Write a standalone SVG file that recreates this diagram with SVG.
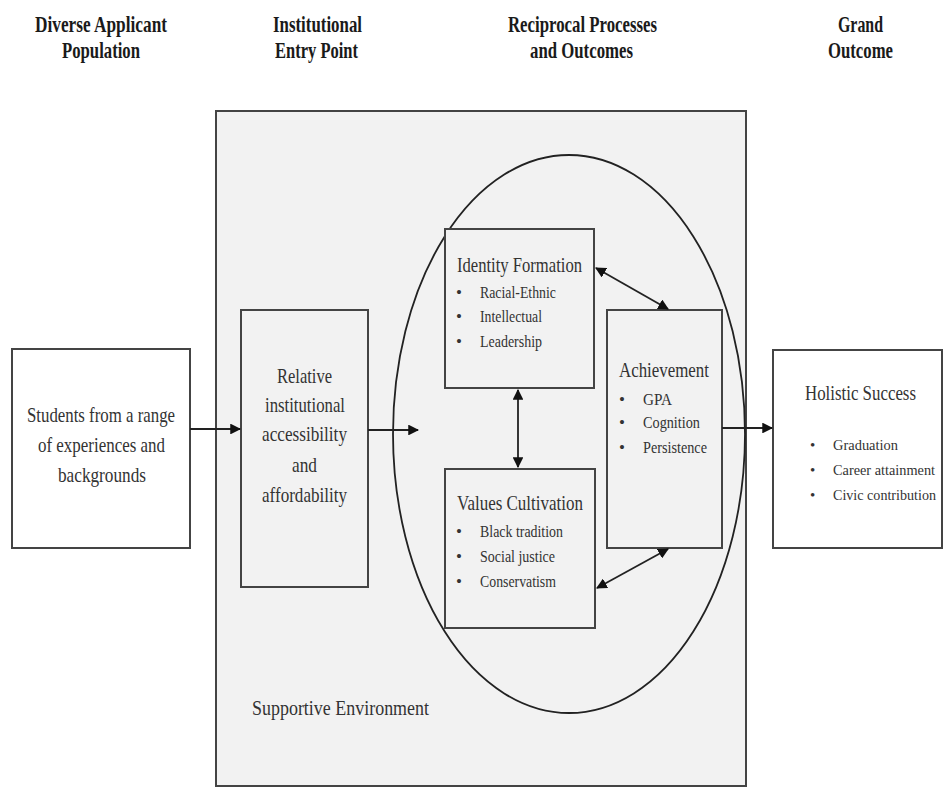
<svg xmlns="http://www.w3.org/2000/svg" width="944" height="789" viewBox="0 0 944 789">
<style>
.hd{font-family:"Liberation Serif",serif;font-weight:bold;font-size:23px;fill:#1a1a1a}
.t{font-family:"Liberation Serif",serif;font-size:21px;fill:#333}
.ti{font-family:"Liberation Serif",serif;font-size:22px;fill:#333}
.b{font-family:"Liberation Serif",serif;font-size:17px;fill:#333}
.tis{font-family:"Liberation Serif",serif;font-size:20px;fill:#333}
.bs{font-family:"Liberation Serif",serif;font-size:15px;fill:#333}
.box{stroke:#444;stroke-width:2}
.ln{stroke:#222;stroke-width:1.8;fill:none}
</style>
<defs>
<marker id="ah" viewBox="0 0 10 10" refX="9" refY="5" markerWidth="6" markerHeight="6" orient="auto-start-reverse">
<path d="M0,0 L10,5 L0,10 z" fill="#111"/>
</marker>
</defs>
<rect width="944" height="789" fill="#fff"/>
<g id="headers">
<text class="hd" x="35" y="32" textLength="132" lengthAdjust="spacingAndGlyphs">Diverse Applicant</text>
<text class="hd" x="62" y="58" textLength="78" lengthAdjust="spacingAndGlyphs">Population</text>
<text class="hd" x="273" y="32" textLength="89" lengthAdjust="spacingAndGlyphs">Institutional</text>
<text class="hd" x="275" y="58" textLength="83" lengthAdjust="spacingAndGlyphs">Entry Point</text>
<text class="hd" x="508" y="32" textLength="149" lengthAdjust="spacingAndGlyphs">Reciprocal Processes</text>
<text class="hd" x="530" y="58" textLength="103" lengthAdjust="spacingAndGlyphs">and Outcomes</text>
<text class="hd" x="838" y="32" textLength="45" lengthAdjust="spacingAndGlyphs">Grand</text>
<text class="hd" x="828" y="58" textLength="65" lengthAdjust="spacingAndGlyphs">Outcome</text>
</g>
<g id="environment">
<rect class="box" x="216" y="111" width="530" height="675" fill="#f2f2f2"/>
<text class="t" x="252" y="715" textLength="177" lengthAdjust="spacingAndGlyphs">Supportive Environment</text>
</g>
<g id="circle">
<ellipse cx="569" cy="434" rx="176" ry="279" fill="none" stroke="#222" stroke-width="1.8"/>
</g>
<g id="students">
<rect class="box" x="12" y="349" width="178" height="199" fill="#fff"/>
<text class="t" x="27" y="422" textLength="148" lengthAdjust="spacingAndGlyphs">Students from a range</text>
<text class="t" x="38" y="452" textLength="127" lengthAdjust="spacingAndGlyphs">of experiences and</text>
<text class="t" x="58" y="482" textLength="88" lengthAdjust="spacingAndGlyphs">backgrounds</text>
</g>
<g id="relative">
<rect class="box" x="241" y="310" width="127" height="277" fill="#f2f2f2"/>
<text class="t" x="277" y="383" textLength="55" lengthAdjust="spacingAndGlyphs">Relative</text>
<text class="t" x="265" y="412" textLength="80" lengthAdjust="spacingAndGlyphs">institutional</text>
<text class="t" x="262" y="441" textLength="85" lengthAdjust="spacingAndGlyphs">accessibility</text>
<text class="t" x="292" y="472" textLength="25" lengthAdjust="spacingAndGlyphs">and</text>
<text class="t" x="262" y="502" textLength="85" lengthAdjust="spacingAndGlyphs">affordability</text>
</g>
<g id="identity">
<rect class="box" x="445" y="229" width="149" height="159" fill="#f2f2f2"/>
<text class="ti" x="457" y="272" textLength="125" lengthAdjust="spacingAndGlyphs">Identity Formation</text>
<text class="b" x="456" y="298">•</text><text class="b" x="480" y="298" textLength="76" lengthAdjust="spacingAndGlyphs">Racial-Ethnic</text>
<text class="b" x="456" y="322">•</text><text class="b" x="480" y="322" textLength="62" lengthAdjust="spacingAndGlyphs">Intellectual</text>
<text class="b" x="456" y="347">•</text><text class="b" x="480" y="347" textLength="62" lengthAdjust="spacingAndGlyphs">Leadership</text>
</g>
<g id="values">
<rect class="box" x="445" y="469" width="150" height="159" fill="#f2f2f2"/>
<text class="ti" x="457" y="510" textLength="126" lengthAdjust="spacingAndGlyphs">Values Cultivation</text>
<text class="b" x="456" y="537">•</text><text class="b" x="480" y="537" textLength="83" lengthAdjust="spacingAndGlyphs">Black tradition</text>
<text class="b" x="456" y="562">•</text><text class="b" x="480" y="562" textLength="75" lengthAdjust="spacingAndGlyphs">Social justice</text>
<text class="b" x="456" y="587">•</text><text class="b" x="480" y="587" textLength="76" lengthAdjust="spacingAndGlyphs">Conservatism</text>
</g>
<g id="achievement">
<rect class="box" x="607" y="310" width="115" height="238" fill="#f2f2f2"/>
<text class="ti" x="619" y="377" textLength="90" lengthAdjust="spacingAndGlyphs">Achievement</text>
<text class="b" x="619" y="405">•</text><text class="b" x="643" y="405" textLength="29" lengthAdjust="spacingAndGlyphs">GPA</text>
<text class="b" x="619" y="428">•</text><text class="b" x="643" y="428" textLength="57" lengthAdjust="spacingAndGlyphs">Cognition</text>
<text class="b" x="619" y="453">•</text><text class="b" x="643" y="453" textLength="64" lengthAdjust="spacingAndGlyphs">Persistence</text>
</g>
<g id="holistic">
<rect class="box" x="773" y="350" width="169" height="198" fill="#fff"/>
<text class="tis" x="805" y="400" textLength="111" lengthAdjust="spacingAndGlyphs">Holistic Success</text>
<text class="bs" x="810" y="450">•</text><text class="bs" x="833" y="450" textLength="65" lengthAdjust="spacingAndGlyphs">Graduation</text>
<text class="bs" x="810" y="475">•</text><text class="bs" x="833" y="475" textLength="102" lengthAdjust="spacingAndGlyphs">Career attainment</text>
<text class="bs" x="810" y="500">•</text><text class="bs" x="833" y="500" textLength="103" lengthAdjust="spacingAndGlyphs">Civic contribution</text>
</g>
<g id="connectors">
<line class="ln" x1="190" y1="429" x2="240" y2="429" marker-end="url(#ah)"/>
<line class="ln" x1="368" y1="430" x2="418" y2="430" marker-end="url(#ah)"/>
<line class="ln" x1="518" y1="390" x2="518" y2="467" marker-start="url(#ah)" marker-end="url(#ah)"/>
<line class="ln" x1="596" y1="268" x2="668" y2="309" marker-start="url(#ah)" marker-end="url(#ah)"/>
<line class="ln" x1="597" y1="588" x2="668" y2="549" marker-start="url(#ah)" marker-end="url(#ah)"/>
<line class="ln" x1="722" y1="428" x2="772" y2="428" marker-end="url(#ah)"/>
</g>
</svg>
